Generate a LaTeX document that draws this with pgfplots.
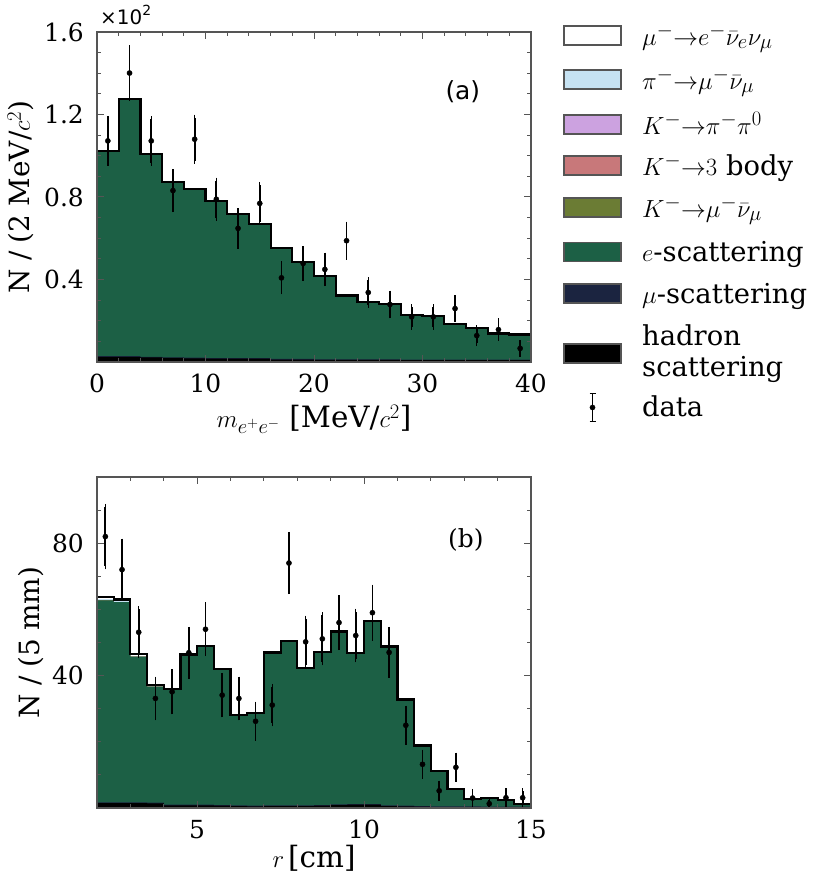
\documentclass[border=0pt]{standalone}
\usepackage{pgfplots}
\pgfplotsset{compat=1.18}
\usepackage{pgfplotstable}
\usepackage{fontspec}
\setmainfont{DejaVu Serif}
\newfontfamily\dvsans{DejaVu Sans}

\definecolor{cmue}{RGB}{255,255,255}
\definecolor{cpimu}{RGB}{198,226,242}
\definecolor{ckpp}{RGB}{204,162,224}
\definecolor{ck3}{RGB}{200,120,122}
\definecolor{ckmu}{RGB}{107,124,52}
\definecolor{ces}{RGB}{28,96,69}
\definecolor{cmus}{RGB}{27,36,64}
\definecolor{chad}{RGB}{0,0,0}
\definecolor{cframe}{RGB}{85,85,85}

\newcommand\wsp{\hspace{0.3em}}
% legend row: colour, centre y (bp from bottom), text
\newcommand\legrow[3]{%
  \draw[draw=cframe, line width=1.2bp, fill=#1] (564bp,#2bp-9.5bp) rectangle (621bp,#2bp+9.5bp);
  \node[anchor=base west, inner sep=0pt, font=\fontsize{27.5}{31}\selectfont] at (642bp,#2bp-9.7bp) {#3};}

\pgfplotstableread{
x    had mus es    kmu k3 kpp pimu mue
0    2.5 0.3 99.2  0 0 0 0 0.3
2    2.5 0.3 124.3 0 0 0 0 0.3
4    2.2 0.3 98.1  0 0 0 0 0.3
6    2.0 0.3 84.8  0 0 0 0 0.3
8    1.8 0.3 81.6  0 0 0 0 0.3
10   1.6 0.3 75.9  0 0 0 0 0.3
12   1.6 0.3 69.4  0 0 0 0 0.3
14   1.6 0.3 64.7  0 0 0 0 0.3
16   1.2 0.3 53.3  0 0 0 0 0.3
18   1.2 0.3 46.5  0 0 0 0 0.3
20   1.0 0.3 40.0  0 0 0 0 0.3
22   1.0 0.3 30.6  0 0 0 0 0.3
24   1.0 0.3 27.5  0 0 0 0 0.3
26   1.0 0.3 26.4  0 0 0 0 0.3
28   0.9 0.3 21.2  0 0 0 0 0.3
30   0.9 0.3 20.7  0 0 0 0 0.3
32   0.9 0.3 16.8  0 0 0 0 0.3
34   0.9 0.3 15.0  0 0 0 0 0.3
36   0.9 0.3 12.3  0 0 0 0 0.3
38   0.9 0.3 11.8  0 0 0 0 0.3
40   0.9 0.3 11.8  0 0 0 0 0.3
}\histA

\pgfplotstableread{
x  y     e
1  107.2 10.5
3  140.1 12.0
5  107.2 10.5
7  83.1  9.0
9  108.0 10.5
11 78.9  9.0
13 64.8  8.4
15 76.9  9.0
17 40.8  6.6
19 47.8  6.9
21 44.9  6.7
23 58.8  7.8
25 33.7  5.9
27 27.9  5.3
29 21.9  4.7
31 21.9  4.7
33 25.9  5.1
35 12.8  3.6
37 15.7  4.0
39 6.6   2.5
}\dataA

\pgfplotstableread{
x    had mus es   kmu k3 kpp pimu mue
2.0  1.5 0.2 61.0 0 0 0 0.4 0.6
2.5  1.5 0.2 60.5 0 0 0 0.5 0.3
3.0  1.5 0.2 44.0 0 0 0 0   0.8
3.5  1.4 0.2 35.1 0 0 0 0   0.4
4.0  0.8 0.2 34.9 0 0 0 0   0
4.5  0.8 0.2 45.4 0 0 0 0   0
5.0  0.8 0.2 48.0 0 0 0 0   0
5.5  0.7 0.2 41.2 0 0 0 0   0
6.0  0.6 0.2 27.2 0 0 0 0   0
6.5  0.5 0.2 28.1 0 0 0 0   0
7.0  0.6 0.2 46.2 0 0 0 0   0
7.5  0.6 0.2 49.6 0 0 0 0   0
8.0  0.6 0.2 41.6 0 0 0 0   0
8.5  0.7 0.2 46.2 0 0 0 0   0
9.0  0.9 0.2 52.2 0 0 0 0   0
9.5  1.0 0.2 45.7 0 0 0 0   0
10.0 1.0 0.2 55.4 0 0 0 0   0
10.5 0.6 0.2 48.0 0 0 0 0   0
11.0 0.5 0.2 32.1 0 0 0 0   0
11.5 0.4 0.2 18.3 0 0 0 0   0
12.0 0.3 0.2 10.6 0 0 0 0   0
12.5 0.3 0.2 5.3  0 0 0 0   0
13.0 0.3 0.2 2.1  0 0 0 0   0
13.5 0.2 0.2 2.7  0 0 0 0   0
14.0 0.2 0.2 2.0  0 0 0 0   0
14.5 0.2 0.2 0.8  0 0 0 0   0
15.0 0.2 0.2 0.8  0 0 0 0   0
}\histB

\pgfplotstableread{
x     y    e
2.25  82.0 9.0
2.75  72.0 8.5
3.25  53.1 7.0
3.75  33.1 5.7
4.25  35.1 5.9
4.75  46.9 6.9
5.25  54.0 7.2
5.75  34.1 5.8
6.25  33.1 5.7
6.75  26.2 5.0
7.25  31.1 5.5
7.75  74.0 8.5
8.25  50.2 7.0
8.75  51.1 7.1
9.25  56.0 7.4
9.75  52.1 7.2
10.25 59.0 7.6
10.75 47.0 6.8
11.25 25.0 5.0
11.75 13.2 3.5
12.25 5.2  2.2
12.75 12.3 3.5
13.25 3.0  1.9
13.75 1.3  1.0
14.25 3.1  1.9
14.75 3.1  1.9
}\dataB

\pgfplotsset{
  panel/.style={
    scale only axis, width=434bp,
    axis on top, clip mode=individual,
    axis line style={cframe, line width=1.3bp},
    every tick/.style={cframe, line width=1bp},
    major tick length=7bp, minor tick length=4bp,
    tick align=inside,
    tick label style={font=\fontsize{25}{30}\selectfont},
    xticklabel style={inner sep=0pt, yshift=-12bp},
    yticklabel style={inner sep=0pt, xshift=-13bp},
    label style={font=\fontsize{28}{33}\selectfont},
  },
  hist/.style={const plot, draw=none, forget plot},
  datapts/.style={only marks, mark=*, mark size=2.6bp, black,
    /pgfplots/error bars/y dir=both,
    /pgfplots/error bars/y explicit,
    /pgfplots/error bars/error bar style={line width=1.8bp, black},
    /pgfplots/error bars/error mark options={mark size=3bp, line width=1.4bp, black}},
}

\begin{document}
\begin{tikzpicture}
\useasboundingbox (0,0) rectangle (830bp,881bp);
% ---------- panel (a)
\begin{axis}[panel, height=330bp, at={(97bp,519bp)}, anchor=south west,
  xmin=0, xmax=40, ymin=0, ymax=160,
  xtick={0,10,20,30,40}, xticklabels={0,10,20,30,40},
  minor xtick={2,4,6,8,12,14,16,18,22,24,26,28,32,34,36,38},
  ytick={40,80,120,160}, yticklabels={0.4,0.8,1.2,1.6},
  minor ytick={10,20,30,50,60,70,90,100,110,130,140,150},
  xlabel={$m_{e^+e^-}$ [MeV/$c^2$]},
  xlabel style={at={(axis description cs:0.5,-0.2)}, anchor=base, font=\fontsize{29.5}{34}\selectfont},
  ylabel={N\wsp/\wsp(2\wsp MeV/$c^2$)},
  ylabel style={at={(axis description cs:-0.1544,0.5)}, anchor=base, font=\fontsize{28}{33}\selectfont},
  legend style={at={(axis description cs:1.07604,-0.0748)}, anchor=north west,
    draw=none, fill=none, inner sep=0pt, outer sep=0pt,
    column sep=21bp,
    font=\fontsize{27.5}{31}\selectfont,
    nodes={inner sep=0pt, anchor=base west}},
]
\addplot[hist, fill=cmue] table[x=x, y expr=\thisrow{had}+\thisrow{mus}+\thisrow{es}+\thisrow{kmu}+\thisrow{k3}+\thisrow{kpp}+\thisrow{pimu}+\thisrow{mue}] {\histA} \closedcycle;
\addplot[hist, fill=cpimu] table[x=x, y expr=\thisrow{had}+\thisrow{mus}+\thisrow{es}+\thisrow{kmu}+\thisrow{k3}+\thisrow{kpp}+\thisrow{pimu}] {\histA} \closedcycle;
\addplot[hist, fill=ckpp] table[x=x, y expr=\thisrow{had}+\thisrow{mus}+\thisrow{es}+\thisrow{kmu}+\thisrow{k3}+\thisrow{kpp}] {\histA} \closedcycle;
\addplot[hist, fill=ck3] table[x=x, y expr=\thisrow{had}+\thisrow{mus}+\thisrow{es}+\thisrow{kmu}+\thisrow{k3}] {\histA} \closedcycle;
\addplot[hist, fill=ckmu] table[x=x, y expr=\thisrow{had}+\thisrow{mus}+\thisrow{es}+\thisrow{kmu}] {\histA} \closedcycle;
\addplot[hist, fill=ces] table[x=x, y expr=\thisrow{had}+\thisrow{mus}+\thisrow{es}] {\histA} \closedcycle;
\addplot[hist, fill=cmus] table[x=x, y expr=\thisrow{had}+\thisrow{mus}] {\histA} \closedcycle;
\addplot[hist, fill=chad] table[x=x, y=had] {\histA} \closedcycle;
\addplot[const plot, draw=black, line width=2.2bp, forget plot] table[x=x, y expr=\thisrow{had}+\thisrow{mus}+\thisrow{es}+\thisrow{kmu}+\thisrow{k3}+\thisrow{kpp}+\thisrow{pimu}+\thisrow{mue}] {\histA};
\addplot[datapts, legend image code/.code={%
    \path[draw=none, fill=none] (0bp,-10bp) rectangle (57bp,30bp);
    \draw[black, line width=1.8bp] (28.5bp,-4.8bp) -- (28.5bp,23.2bp);
    \draw[black, line width=1.4bp] (25.5bp,-4.8bp) -- (31.5bp,-4.8bp) (25.5bp,23.2bp) -- (31.5bp,23.2bp);
    \fill[black] (28.5bp,9.2bp) circle (2.6bp);}]
  table[x=x, y=y, y error=e] {\dataA};
\addlegendentry{data}
\node[anchor=base west, inner sep=0pt, font=\dvsans\fontsize{20}{24}\selectfont] at (axis description cs:0.007,1.024) {×10\raisebox{0.45em}{\fontsize{14}{16}\selectfont 2}};
\node[font=\dvsans\fontsize{25}{30}\selectfont] at (axis description cs:0.843,0.818) {(a)};
\end{axis}
% ---------- legend swatches
\legrow{cmue}{845.5}{$\mu^-{\to}e^-\bar{\nu}_e\nu_\mu$}
\legrow{cpimu}{801.5}{$\pi^-{\to}\mu^-\bar{\nu}_\mu$}
\legrow{ckpp}{756.5}{$K^-{\to}\pi^-\pi^0$}
\legrow{ck3}{715.5}{$K^-{\to}3$ body}
\legrow{ckmu}{673.5}{$K^-{\to}\mu^-\bar{\nu}_\mu$}
\legrow{ces}{629}{$e$-scattering}
\legrow{cmus}{587.5}{$\mu$-scattering}
\draw[draw=cframe, line width=1.2bp, fill=chad] (564bp,518bp) rectangle (621bp,537bp);
\node[anchor=base west, inner sep=0pt, font=\fontsize{27.5}{31}\selectfont] at (642bp,535bp) {hadron};
\node[anchor=base west, inner sep=0pt, font=\fontsize{27.5}{31}\selectfont] at (642bp,504.3bp) {scattering};
% ---------- panel (b)
\begin{axis}[panel, height=331bp, at={(97bp,73bp)}, anchor=south west,
  xmin=2, xmax=15, ymin=0, ymax=100,
  xtick={5,10,15}, xticklabels={5,10,15},
  minor xtick={2,3,4,6,7,8,9,11,12,13,14},
  ytick={40,80}, yticklabels={40,80},
  minor ytick={10,20,30,50,60,70,90},
  xlabel={$r\,$[cm]},
  xlabel style={at={(axis description cs:0.5,-0.181)}, anchor=base, font=\fontsize{29.5}{34}\selectfont},
  ylabel={N\wsp/\wsp(5\wsp mm)},
  ylabel style={at={(axis description cs:-0.1325,0.5)}, anchor=base, font=\fontsize{28}{33}\selectfont},
]
\addplot[hist, fill=cmue] table[x=x, y expr=\thisrow{had}+\thisrow{mus}+\thisrow{es}+\thisrow{kmu}+\thisrow{k3}+\thisrow{kpp}+\thisrow{pimu}+\thisrow{mue}] {\histB} \closedcycle;
\addplot[hist, fill=cpimu] table[x=x, y expr=\thisrow{had}+\thisrow{mus}+\thisrow{es}+\thisrow{kmu}+\thisrow{k3}+\thisrow{kpp}+\thisrow{pimu}] {\histB} \closedcycle;
\addplot[hist, fill=ckpp] table[x=x, y expr=\thisrow{had}+\thisrow{mus}+\thisrow{es}+\thisrow{kmu}+\thisrow{k3}+\thisrow{kpp}] {\histB} \closedcycle;
\addplot[hist, fill=ck3] table[x=x, y expr=\thisrow{had}+\thisrow{mus}+\thisrow{es}+\thisrow{kmu}+\thisrow{k3}] {\histB} \closedcycle;
\addplot[hist, fill=ckmu] table[x=x, y expr=\thisrow{had}+\thisrow{mus}+\thisrow{es}+\thisrow{kmu}] {\histB} \closedcycle;
\addplot[hist, fill=ces] table[x=x, y expr=\thisrow{had}+\thisrow{mus}+\thisrow{es}] {\histB} \closedcycle;
\addplot[hist, fill=cmus] table[x=x, y expr=\thisrow{had}+\thisrow{mus}] {\histB} \closedcycle;
\addplot[hist, fill=chad] table[x=x, y=had] {\histB} \closedcycle;
\addplot[const plot, draw=black, line width=2.2bp] table[x=x, y expr=\thisrow{had}+\thisrow{mus}+\thisrow{es}+\thisrow{kmu}+\thisrow{k3}+\thisrow{kpp}+\thisrow{pimu}+\thisrow{mue}] {\histB};
\addplot[datapts] table[x=x, y=y, y error=e] {\dataB};
\node[font=\fontsize{25}{30}\selectfont] at (axis description cs:0.85,0.81) {(b)};
\end{axis}
\end{tikzpicture}
\end{document}
